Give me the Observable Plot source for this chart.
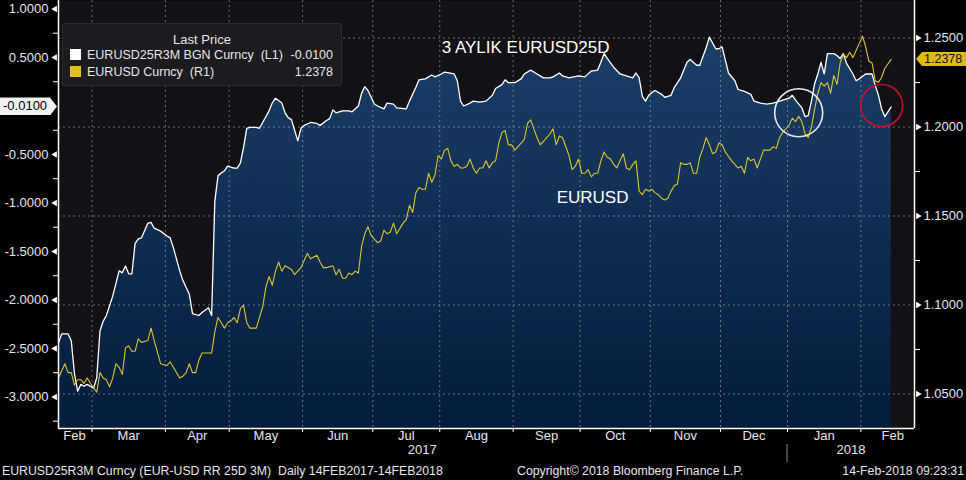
<!DOCTYPE html>
<html><head><meta charset="utf-8">
<script src="https://cdn.jsdelivr.net/npm/d3@7"></script>
<script src="https://cdn.jsdelivr.net/npm/@observablehq/plot@0.6"></script>
<style>
html,body{margin:0;padding:0;background:#000;}
#wrap{position:relative;width:966px;height:480px;background:#000;overflow:hidden;font-family:"Liberation Sans",Arial,sans-serif;color:#e6e6e6;}
#wrap svg{display:block;}
.abs{position:absolute;white-space:pre;line-height:16px;}
#legend{position:absolute;left:62px;top:23px;width:280px;height:63px;background:#1c1b1f;border:1px solid #2b2a2f;border-radius:2px;box-sizing:border-box;font-size:12.5px;}
.sq{position:absolute;width:11px;height:11px;}
.foot{font-size:12.3px;color:#e6e6e6;top:463px;}
</style></head>
<body><div id="wrap"></div>
<script>
// ---- data ----
// EURUSD25R3M BGN Curncy (25D 3M risk reversal), left axis; x = trading day since 14 Feb 2017
const rrDay = [0,1,3,4,5,6,7,8,9,11,12,13,14,15,16,17,19,20,21,22,23,24,25,26,28,29,30,32,34,35,36,38,39,41,42,44,45,47,48,49,50,51,52,53,55,56,57,58,59,60,62,63,64,66,67,68,70,71,72,73,74,75,76,77,79,81,82,84,85,86,87,89,91,92,94,95,96,97,99,100,102,103,105,106,109,110,112,113,115,117,118,120,121,124,125,126,127,129,130,132,134,136,137,139,140,141,143,145,146,148,150,152,154,155,157,158,160,163,165,167,169,170,171,172,174,176,178,180,181,182,183,184,185,186,187,189,190,192,193,195,197,198,200,201,203,204,206,207,208,210,212,213,215,217,218,220,222,224,226,229,230,231,233,234,235,236,237,238,239,240,241,243,244,245,246,247,249,250,251,253,255,256,257,258,259,261];
const rrValue = [-2.44,-2.35,-2.35,-2.42,-2.76,-2.94,-2.87,-2.89,-2.87,-2.91,-2.80,-2.32,-2.22,-2.16,-2.06,-1.96,-1.70,-1.72,-1.65,-1.73,-1.73,-1.42,-1.37,-1.36,-1.21,-1.20,-1.26,-1.29,-1.34,-1.36,-1.46,-1.70,-1.80,-1.94,-2.14,-2.16,-2.13,-2.08,-2.16,-0.98,-0.72,-0.69,-0.67,-0.62,-0.64,-0.64,-0.59,-0.43,-0.23,-0.22,-0.22,-0.23,-0.17,-0.05,0.03,0.08,0.03,-0.07,-0.12,-0.14,-0.25,-0.36,-0.23,-0.20,-0.17,-0.18,-0.20,-0.15,-0.13,-0.04,-0.07,-0.05,-0.05,-0.06,0.00,0.13,0.20,0.16,0.02,0.00,-0.03,0.03,0.02,-0.02,-0.03,0.05,0.19,0.27,0.28,0.32,0.30,0.33,0.35,0.33,0.26,0.05,0.00,0.03,0.05,0.04,0.05,0.11,0.18,0.22,0.27,0.24,0.24,0.28,0.33,0.37,0.33,0.29,0.29,0.30,0.34,0.31,0.29,0.31,0.30,0.36,0.37,0.45,0.54,0.49,0.40,0.33,0.31,0.29,0.34,0.29,0.10,0.05,0.11,0.14,0.16,0.12,0.09,0.11,0.19,0.29,0.45,0.48,0.42,0.42,0.60,0.71,0.59,0.59,0.61,0.34,0.26,0.17,0.15,0.12,0.05,0.03,0.02,0.03,0.05,0.08,0.11,0.06,-0.02,-0.11,-0.10,0.05,0.23,0.33,0.45,0.33,0.54,0.54,0.52,0.49,0.54,0.44,0.33,0.26,0.28,0.33,0.33,0.21,0.11,-0.03,-0.11,-0.01];
// EURUSD Curncy, right axis
const fxDay = [0,2,3,4,5,6,7,8,9,10,12,13,14,15,16,17,18,19,20,21,22,23,24,25,26,28,29,30,32,34,35,36,38,39,40,41,42,43,44,45,47,48,49,50,51,52,53,54,55,56,57,58,59,60,62,63,64,65,66,67,68,69,70,71,73,74,76,77,78,79,81,82,83,84,86,87,88,89,90,91,92,93,94,95,96,97,98,100,101,102,103,104,105,106,108,109,110,111,112,113,114,115,116,117,118,119,120,121,122,123,124,125,126,127,128,129,130,131,132,133,134,135,136,137,138,139,140,141,142,143,144,145,146,147,148,149,150,151,152,153,154,155,156,157,158,160,161,162,163,164,165,166,167,168,169,170,171,172,173,174,175,176,177,178,179,180,181,182,183,184,185,186,187,188,189,190,191,192,193,194,195,196,197,198,199,200,201,202,203,204,205,206,207,208,209,211,212,213,214,215,216,217,218,219,221,223,224,225,226,227,229,230,231,232,233,234,235,236,237,238,239,240,241,242,243,244,245,246,247,248,249,250,251,252,253,254,255,256,257,258,259,261];
const fxValue = [1.059,1.067,1.062,1.062,1.055,1.058,1.058,1.056,1.059,1.056,1.051,1.062,1.059,1.058,1.054,1.059,1.067,1.065,1.061,1.076,1.077,1.074,1.074,1.081,1.079,1.080,1.087,1.080,1.067,1.066,1.068,1.065,1.059,1.060,1.062,1.067,1.062,1.062,1.069,1.073,1.073,1.073,1.085,1.093,1.090,1.087,1.090,1.091,1.093,1.090,1.098,1.100,1.090,1.087,1.087,1.093,1.099,1.110,1.116,1.111,1.119,1.124,1.119,1.122,1.120,1.117,1.121,1.125,1.129,1.126,1.128,1.124,1.121,1.121,1.122,1.117,1.120,1.115,1.115,1.118,1.117,1.119,1.118,1.133,1.140,1.144,1.139,1.135,1.136,1.142,1.140,1.141,1.146,1.140,1.146,1.148,1.156,1.152,1.163,1.166,1.165,1.165,1.174,1.169,1.173,1.184,1.182,1.187,1.188,1.181,1.178,1.179,1.177,1.177,1.178,1.182,1.177,1.174,1.177,1.177,1.181,1.177,1.180,1.181,1.191,1.197,1.198,1.190,1.190,1.187,1.189,1.191,1.193,1.202,1.204,1.199,1.194,1.190,1.192,1.194,1.196,1.199,1.190,1.195,1.194,1.184,1.176,1.178,1.182,1.174,1.174,1.176,1.172,1.174,1.174,1.181,1.186,1.183,1.182,1.179,1.177,1.181,1.185,1.177,1.176,1.179,1.181,1.164,1.162,1.165,1.164,1.165,1.163,1.162,1.160,1.159,1.160,1.164,1.167,1.168,1.180,1.179,1.179,1.180,1.174,1.174,1.183,1.188,1.194,1.190,1.185,1.186,1.191,1.190,1.186,1.181,1.179,1.177,1.178,1.174,1.183,1.181,1.182,1.177,1.187,1.187,1.189,1.188,1.194,1.197,1.201,1.205,1.203,1.206,1.203,1.196,1.194,1.200,1.210,1.219,1.225,1.223,1.225,1.219,1.229,1.224,1.236,1.241,1.239,1.242,1.239,1.243,1.247,1.251,1.245,1.237,1.236,1.226,1.225,1.228,1.233,1.238];

const leftMajor = [1, 0.5, -0.5, -1, -1.5, -2, -2.5, -3];
const leftMinor = [0.75, 0.25, -0.25, -0.75, -1.25, -1.75, -2.25, -2.75, -3.25];
const rightMajor = [1.25, 1.20, 1.15, 1.10, 1.05];
const rightMinor = [1.225, 1.175, 1.125, 1.075];
const monthNames = ["Jan","Feb","Mar","Apr","May","Jun","Jul","Aug","Sep","Oct","Nov","Dec"];
const legendNames = ["EURUSD25R3M BGN Curncy  (L1)", "EURUSD Curncy  (R1)"];
const legendLast = ["-0.0100", "1.2378"];
const annotTexts = [{day: 146.4, v: 0.60, label: "3 AYLIK EURUSD25D"}, {day: 167.4, v: -0.945, label: "EURUSD"}];
const whiteCircle = [{day: 232, v: -0.07}];
const redCircle = [{day: 258, v: 0.005}];
const footLeft = "EURUSD25R3M Curncy (EUR-USD RR 25D 3M)  Daily 14FEB2017-14FEB2018";
const footMid = "Copyright\u00A9 2018 Bloomberg Finance L.P.";
const footRight = "14-Feb-2018 09:23:31";

// ---- scales ----
const leftDomain = [-3.325, 1.0876];
const rightDomain = [1.0306, 1.2711];
const xDomain = [0, 268.3];
const toLeft = d3.scaleLinear().domain(rightDomain).range(leftDomain);

const START = new Date(Date.UTC(2017, 1, 14));
const isWeekday = d => d.getUTCDay() % 6 !== 0;
function tradingIndex(date) {
  if (date < START) return -d3.utcDay.range(date, START).filter(isWeekday).length;
  return d3.utcDay.range(START, date).filter(isWeekday).length;
}
const monthStarts = d3.utcMonth.range(new Date(Date.UTC(2017, 1, 1)), new Date(Date.UTC(2018, 2, 2)));
const monthBounds = monthStarts.slice(1, -1).map(d => tradingIndex(d) - 0.5);
const monthLabels = monthStarts.slice(0, -1).map((d, i) => {
  const a = Math.max(-0.5, tradingIndex(d) - 0.5), b = tradingIndex(monthStarts[i + 1]) - 0.5;
  return {center: (a + b) / 2, name: monthNames[d.getUTCMonth()]};
});
const jan2018 = tradingIndex(new Date(Date.UTC(2018, 0, 1))) - 0.5;
const yearLabels = [{center: (-0.5 + jan2018) / 2, name: "2017"}, {center: (jan2018 + xDomain[1]) / 2, name: "2018"}];

const rr = rrDay.map((d, i) => ({day: d, v: rrValue[i]}));
const fx = fxDay.map((d, i) => ({day: d, v: toLeft(fxValue[i])}));

const txt = "#e6e6e6";
const gridStyle = {stroke: "#a9aeb8", strokeOpacity: 0.6, strokeDasharray: "2,3", strokeWidth: 1};

const chart = Plot.plot({
  width: 966, height: 480,
  marginLeft: 58, marginRight: 52, marginTop: 0, marginBottom: 52,
  style: {background: "#000", color: txt, fontFamily: '"Liberation Sans", Arial, sans-serif', fontSize: "13px"},
  x: {domain: xDomain, axis: null},
  y: {domain: leftDomain, axis: null},
  marks: [
    Plot.frame({fill: "#131115", stroke: "none"}),
    Plot.areaY(rr, {x: "day", y1: leftDomain[0], y2: "v", fill: "url(#rrGrad)"}),
    Plot.gridX(monthBounds, gridStyle),
    Plot.gridY(rightMajor.map(toLeft), gridStyle),
    Plot.lineY(rr, {x: "day", y: "v", stroke: "#ffffff", strokeWidth: 1.3}),
    Plot.lineY(fx, {x: "day", y: "v", stroke: "#d9c62c", strokeWidth: 1.1}),
    Plot.dot(whiteCircle, {x: "day", y: "v", r: 24, stroke: "#e8e8e8", strokeWidth: 1.6, fill: "none"}),
    Plot.dot(redCircle, {x: "day", y: "v", r: 21, stroke: "#c8102e", strokeWidth: 1.6, fill: "none"}),
    Plot.text(annotTexts, {x: "day", y: "v", text: "label", fill: "#ffffff", fontSize: 17}),
    Plot.ruleX([xDomain[0], xDomain[1]], {stroke: "#ffffff", strokeWidth: 1.5}),
    Plot.ruleY([leftDomain[0]], {stroke: "#ffffff", strokeWidth: 1.5}),
    // left axis
    Plot.axisY(leftMajor, {anchor: "left", label: null, tickSize: 0, tickPadding: 10, tickFormat: d => d.toFixed(4), fill: txt, fontSize: 13}),
    Plot.axisY(leftMinor, {anchor: "left", label: null, tickSize: 5, tickFormat: () => "", stroke: "#ffffff"}),
    Plot.dot(leftMajor, {x: xDomain[0], y: d => d, symbol: "triangle", r: 2.4, rotate: -90, fill: "#ffffff", dx: -3.5}),
    // right axis
    Plot.axisY(rightMajor.map(toLeft), {anchor: "right", label: null, tickSize: 0, tickPadding: 9, tickFormat: d => toLeft.invert(d).toFixed(4), fill: txt, fontSize: 13}),
    Plot.axisY(rightMinor.map(toLeft), {anchor: "right", label: null, tickSize: 5, tickFormat: () => "", stroke: "#ffffff"}),
    Plot.dot(rightMajor.map(toLeft), {x: xDomain[1], y: d => d, symbol: "triangle", r: 2.4, rotate: 90, fill: "#ffffff", dx: 3.5}),
    // x axis
    Plot.axisX(monthBounds, {label: null, tickSize: 4, tickFormat: () => "", stroke: "#ffffff"}),
    Plot.text(monthLabels, {x: "center", text: "name", frameAnchor: "bottom", dy: 11, fill: txt, fontSize: 13}),
    Plot.text(yearLabels, {x: "center", text: "name", frameAnchor: "bottom", dy: 25, fill: txt, fontSize: 13})
  ]
});

const wrap = document.getElementById("wrap");
wrap.appendChild(chart);

// gradient for the area + year divider, placed with the plot's own scales
const ns = "http://www.w3.org/2000/svg";
const defs = document.createElementNS(ns, "defs");
defs.innerHTML = '<linearGradient id="rrGrad" gradientUnits="userSpaceOnUse" x1="0" y1="0" x2="0" y2="428"><stop offset="0" stop-color="#1d416c"/><stop offset="1" stop-color="#041c3b"/></linearGradient>';
chart.insertBefore(defs, chart.firstChild);
const sx = chart.scale("x"), sy = chart.scale("y");
const xj = sx.apply(jan2018);
const div = document.createElementNS(ns, "line");
div.setAttribute("x1", xj); div.setAttribute("x2", xj);
div.setAttribute("y1", 444); div.setAttribute("y2", 462);
div.setAttribute("stroke", "#8a8a8a"); div.setAttribute("stroke-width", 1);
chart.appendChild(div);

// legend
const legend = document.createElement("div");
legend.id = "legend";
legend.innerHTML = `<div class="abs" style="left:0;width:100%;text-align:center;top:8px;font-size:13px">Last Price</div>
<div class="sq" style="left:7px;top:25px;background:#ffffff"></div>
<div class="abs" style="left:24px;top:23px">${legendNames[0]}</div>
<div class="abs" style="right:8px;top:23px">${legendLast[0]}</div>
<div class="sq" style="left:7px;top:42px;background:#e2c21c"></div>
<div class="abs" style="left:24px;top:40px">${legendNames[1]}</div>
<div class="abs" style="right:8px;top:40px">${legendLast[1]}</div>`;
wrap.appendChild(legend);

// last-value tags
const yL = sy.apply(rrValue[rrValue.length - 1]);
const tagL = document.createElement("div");
tagL.style.cssText = `position:absolute;left:0;top:${yL - 9}px;width:57px;height:18px;background:#f2f2f2;color:#000;font-size:13px;line-height:18px;text-indent:3px;clip-path:polygon(0 0,50px 0,57px 50%,50px 100%,0 100%)`;
tagL.textContent = legendLast[0];
wrap.appendChild(tagL);
const yR = sy.apply(toLeft(fxValue[fxValue.length - 1]));
const tagR = document.createElement("div");
tagR.style.cssText = `position:absolute;left:916px;top:${yR - 7}px;width:50px;height:14px;background:#e0b912;color:#111;font-size:12.5px;line-height:14px;text-indent:8px;clip-path:polygon(0 50%,6px 0,100% 0,100% 100%,6px 100%)`;
tagR.textContent = legendLast[1];
wrap.appendChild(tagR);

// footer
const f1 = document.createElement("div"); f1.className = "abs foot"; f1.style.left = "2px"; f1.textContent = footLeft; wrap.appendChild(f1);
const f2 = document.createElement("div"); f2.className = "abs foot"; f2.style.left = "517px"; f2.textContent = footMid; wrap.appendChild(f2);
const f3 = document.createElement("div"); f3.className = "abs foot"; f3.style.right = "2px"; f3.textContent = footRight; wrap.appendChild(f3);
</script>
</body></html>
